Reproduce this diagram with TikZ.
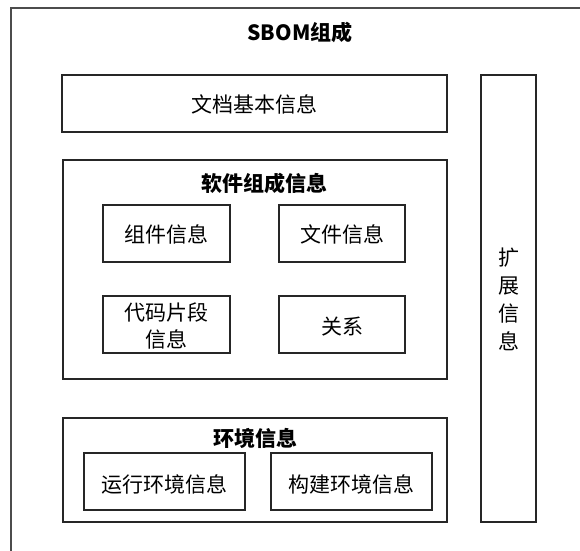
\documentclass[tikz,border=0pt]{standalone}
\usepackage{fontspec}
\setmainfont{Noto Sans CJK SC}
\begin{document}
\begin{tikzpicture}[x=1pt,y=-1pt,
  box/.style={draw=black!85,line width=1.2pt},
  lbl/.style={font=\fontsize{21}{26}\selectfont,align=center,inner sep=0pt},
  ttl/.style={font=\fontsize{21}{26}\selectfont\bfseries,inner sep=0pt}]
\useasboundingbox (0,0) rectangle (580,550);
\clip (0,0) rectangle (580,550);
\fill[white] (0,0) rectangle (580,550);
% outer
\draw[box,draw=black!70] (11,8) rectangle (592,562);
\node[ttl] (title) at (300,32) {SBOM组成};
% document info
\draw[box] (62,75) rectangle (447,132);
\node[lbl] (doc) at (254.5,104) {文档基本信息};
% extension
\draw[box] (481,75) rectangle (536,522);
\node[lbl,font=\fontsize{21}{28}\selectfont] (ext) at (508.5,299) {扩\\展\\信\\息};
% software
\draw[box] (63,160) rectangle (447,379);
\node[ttl] (sw) at (264,183) {软件组成信息};
\draw[box] (103,205) rectangle (230,262);
\node[lbl] (comp) at (166.5,234) {组件信息};
\draw[box] (279,205) rectangle (405,262);
\node[lbl] (file) at (342,234) {文件信息};
\draw[box] (103,296) rectangle (230,353);
\node[lbl,font=\fontsize{21}{27}\selectfont] (code) at (166.5,326) {代码片段\\信息};
\draw[box] (279,296) rectangle (405,353);
\node[lbl] (rel) at (342,327) {关系};
% environment
\draw[box] (63,418) rectangle (447,522);
\node[ttl] (env) at (255,438) {环境信息};
\draw[box] (84,453) rectangle (245,510);
\node[lbl] (run) at (164.5,484) {运行环境信息};
\draw[box] (271,453) rectangle (432,510);
\node[lbl] (build) at (351.5,484) {构建环境信息};
\end{tikzpicture}
\end{document}
